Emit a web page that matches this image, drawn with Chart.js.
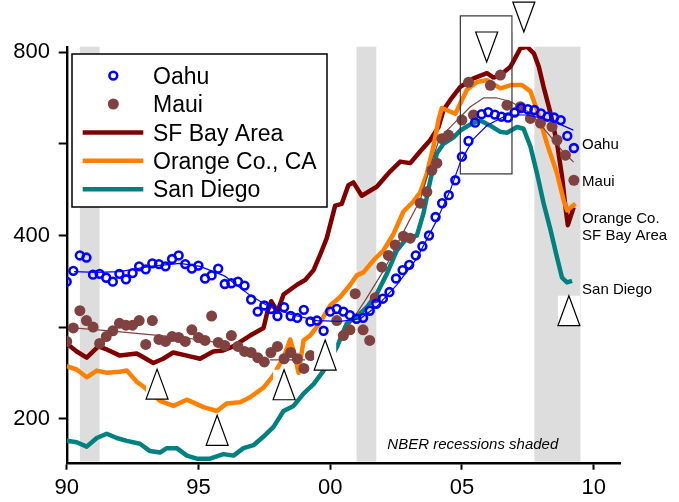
<!DOCTYPE html>
<html>
<head>
<meta charset="utf-8">
<script src="https://cdn.jsdelivr.net/npm/chart.js@4/dist/chart.umd.min.js"></script>
<style>
  html, body { margin: 0; padding: 0; background: #fff; }
  #wrap { width: 679px; height: 502px; }
</style>
</head>
<body>
<div id="wrap"><canvas id="c" width="679" height="502"></canvas></div>
<script>
// ---- axes ----
const xTicks = [1990, 1995, 2000, 2005, 2010];
const xTickLabels = ['90', '95', '00', '05', '10'];
const yTicks = [200, 283, 400, 566, 800];
const yTickLabels = ['200', '', '400', '', '800'];

// ---- NBER recessions ----
const recessionStart = [1990.5, 2001.0, 2007.75];
const recessionEnd   = [1991.25, 2001.75, 2009.5];

// ---- Oahu (quarterly, starting 1990 Q1) ----
const oahuStart = 1990;
const oahuValues = [336,350,371,368,345,346,341,336,346,339,
                    347,356,352,360,359,356,366,371,359,353,
                    357,340,344,353,333,334,336,331,314,300,
                    307,303,295,305,295,293,302,289,290,279,
                    300,303,300,296,292,293,301,309,315,323,
                    340,351,358,371,384,400,429,452,466,493,
                    539,572,613,633,638,632,627,625,637,648,
                    645,643,635,627,625,619,583,557];
const oahuYears = oahuValues.map((_, i) => oahuStart + i / 4);

// Oahu trend
const oahuTrendYears  = [1990.28,1991.15,1992.02,1993.16,1994.30,1995.06,1996.01,1996.96,1997.72,1998.48,1999.49,2000.38,2001.14,2001.77,2002.53,2003.29,2004.05,2004.56,2004.94,2005.43,2005.96,2006.72,2007.48,2008.36,2009.23];
const oahuTrendValues = [349,348,349,356,360,356,343,319,305,297,290,289,292,306,332,367,424,475,528,576,607,631,631,619,596];

// ---- Maui ----
const mauiYears = [1990.00,1990.25,1990.50,1990.75,1991.00,1991.25,1991.50,1991.75,1992.00,1992.25,
                   1992.50,1992.75,1993.00,1993.25,1993.50,1993.75,1994.00,1994.25,1994.50,1994.75,
                   1995.00,1995.25,1995.50,1995.75,1996.00,1996.25,1996.50,1996.75,1997.00,1997.25,
                   1997.50,1997.75,1998.00,1998.25,1998.50,1998.75,1999.00,1999.25,
                   2000.25,2000.50,2000.75,2000.95,2001.25,2001.50,2001.71,2001.96,2002.21,2002.47,
                   2002.78,2003.04,2003.42,2003.67,2003.86,2004.05,2004.24,2004.49,2005.00,2005.25,
                   2005.44,2006.08,2006.46,2006.71,2007.22,2007.60,2007.98,2008.42,2008.61,2008.93,
                   2009.25];
const mauiValues = [268,282,301,290,283,266,273,279,287,285,
                    285,290,265,290,270,268,273,272,268,280,
                    272,269,295,267,264,274,263,258,257,252,
                    248,257,263,251,257,251,242,254,
                    290,274,280,321,280,269,316,355,371,386,
                    399,396,452,472,512,526,577,585,619,714,
                    631,706,734,655,651,623,612,604,574,542,
                    493];

// Maui trend (three fitted pieces)
const mauiTrendYears  = [1990.24,1991.64,1993.16,1994.68,1996.20,1996.90,1997.72,1999.05,1999.80,
                         2000.57,2001.33,2002.09,2002.85,2003.42,2003.80,2004.15,2004.82,2005.32,2005.82,2006.33,2006.84,2007.60,2008.23,2008.86,2009.24];
const mauiTrendValues = [282,279,275,271,265,null,250,250,null,
                         279,313,354,411,458,520,578,619,651,673,673,664,636,591,548,528];

// ---- SF Bay Area ----
const sfYears = [1990.00,1990.38,1990.76,1991.20,1991.52,1992.02,1992.66,1993.29,1993.66,1994.04,
                 1994.56,1995.06,1995.56,1995.94,1996.32,1996.96,1997.47,1997.62,1997.76,1998.00,
                 1998.23,1998.74,1999.05,1999.37,1999.62,1999.87,2000.19,2000.44,2000.69,2000.88,
                 2001.20,2001.45,2001.77,2002.09,2002.28,2002.66,2003.04,2003.42,2003.80,2004.11,
                 2004.30,2004.56,2004.94,2005.44,2005.95,2006.20,2006.46,2006.84,2007.22,2007.47,
                 2007.73,2007.92,2008.10,2008.36,2008.61,2008.80,2008.93,2009.02,2009.24];
const sfValues = [266,258,252,263,260,254,256,247,251,257,
                  254,251,258,259,263,274,282,300,312,300,
                  320,332,338,351,372,396,448,451,484,489,
                  465,472,481,499,510,529,526,550,574,603,
                  643,668,702,725,739,727,734,757,812,817,
                  797,757,702,636,567,500,445,416,445];

// ---- Orange Co., CA ----
const orangeYears = [1990.00,1990.38,1990.76,1991.14,1991.52,1992.02,1992.28,1992.66,1992.91,1993.54,
                     1994.05,1994.56,1995.19,1995.70,1996.08,1996.58,1996.96,1997.47,1997.85,1998.23,
                     1998.48,1998.61,1998.80,1998.99,1999.24,1999.62,2000.00,2000.38,2000.76,2001.01,
                     2001.26,2001.64,2002.02,2002.40,2002.78,2003.16,2003.42,2003.67,2003.92,2004.11,
                     2004.24,2004.75,2005.19,2005.57,2005.95,2006.46,2006.90,2007.28,2007.60,2007.85,
                     2008.23,2008.61,2008.86,2008.99,2009.31];
const orangeValues = [244,241,234,240,238,239,240,230,226,214,
                      210,215,209,206,212,213,217,225,236,252,
                      270,259,238,269,274,288,307,317,332,344,
                      348,364,378,402,438,455,471,506,560,619,
                      648,634,694,715,720,698,707,707,690,643,
                      566,506,457,440,451];

// ---- San Diego ----
const sdYears = [1990.00,1990.38,1990.76,1991.14,1991.52,1991.90,1992.28,1992.78,1993.16,1993.54,
                 1993.80,1994.18,1994.56,1994.94,1995.44,1995.95,1996.33,1996.71,1997.09,1997.47,
                 1997.85,1998.23,1998.61,1998.99,1999.37,1999.75,2000.25,2000.63,2001.01,2001.39,
                 2001.77,2002.15,2002.53,2002.91,2003.29,2003.54,2003.80,2004.05,2004.30,2004.68,
                 2004.94,2005.32,2005.70,2006.08,2006.46,2006.71,2007.09,2007.34,2007.60,2007.85,
                 2008.10,2008.36,2008.61,2008.80,2008.99,2009.18];
const sdValues = [184,183,180,186,189,186,184,182,177,176,
                  179,179,174,172,172,175,174,179,181,187,
                  194,206,210,220,228,240,262,287,294,305,
                  321,346,378,396,400,435,493,546,566,580,
                  595,609,618,606,592,590,603,599,560,506,
                  452,409,368,341,335,337];

// ---- turning-point markers ----
const markerYears  = [1993.43, 1995.71, 1998.25, 1999.81, 2009.06, 2005.94, 2007.35];
const markerValues = [228, 191.5, 227.5, 254.5, 301, 816, 914];
const markerDir    = ['up', 'up', 'up', 'up', 'up', 'down', 'down'];

// bracket around the 2005-2006 peak
const bracketYears  = [2004.94, 2006.90];
const bracketValues = [505, 918];

// ---- end-of-line labels ----
const endLabels = ['Oahu', 'Maui', 'Orange Co.', 'SF Bay Area', 'San Diego'];
const endLabelValues = [566, 493, 428, 401, 327];
const endLabelYear = 2009.56;

const noteText = 'NBER recessions shaded';
const noteYear = 2002.17;
const noteValue = 178.3;

// ---- styles ----
const FONT = '"Liberation Sans", Arial, Helvetica, sans-serif';
const BLUE = '#0000ff';
const MAUI = '#7f4240';
const SF = '#800000';
const ORANGE = '#ff8000';
const TEAL = '#008080';
const SHADE = '#dddddd';

Chart.defaults.font.family = FONT;
Chart.defaults.color = '#000';

const pts = (xs, ys) => xs.map((x, i) => ({ x: x, y: ys[i] }));

function drawTriangle(ctx, cx, cy, dir) {
  const w = 22, h = 30;
  const l = cx - w / 2, t = cy - h / 2;
  ctx.fillStyle = '#fff';
  ctx.fillRect(l, t, w, h);
  ctx.beginPath();
  if (dir === 'up') {
    ctx.moveTo(cx, t); ctx.lineTo(l + w, t + h); ctx.lineTo(l, t + h);
  } else {
    ctx.moveTo(l, t); ctx.lineTo(l + w, t); ctx.lineTo(cx, t + h);
  }
  ctx.closePath();
  ctx.lineWidth = 1.2;
  ctx.strokeStyle = '#000';
  ctx.stroke();
}

const decorations = {
  id: 'decorations',
  beforeDraw(chart) {
    const { ctx, chartArea: ca, scales: { x } } = chart;
    ctx.save();
    ctx.fillStyle = SHADE;
    for (let i = 0; i < recessionStart.length; i++) {
      const a = x.getPixelForValue(recessionStart[i]);
      const b = x.getPixelForValue(recessionEnd[i]);
      ctx.fillRect(a, ca.top, b - a, ca.bottom - ca.top - 1);
    }
    ctx.restore();
  },
  afterDatasetsDraw(chart) {
    const { ctx, chartArea: ca, scales: { x, y } } = chart;
    ctx.save();

    // bracket
    const bl = x.getPixelForValue(bracketYears[0]);
    const br = x.getPixelForValue(bracketYears[1]);
    const bb = y.getPixelForValue(bracketValues[0]);
    const bt = y.getPixelForValue(bracketValues[1]);
    ctx.strokeStyle = '#333';
    ctx.lineWidth = 1.2;
    ctx.strokeRect(bl, bt, br - bl, bb - bt);

    // markers
    for (let i = 0; i < markerYears.length; i++) {
      drawTriangle(ctx, x.getPixelForValue(markerYears[i]), y.getPixelForValue(markerValues[i]), markerDir[i]);
    }

    // end labels
    ctx.fillStyle = '#000';
    ctx.font = '15px ' + FONT;
    ctx.textAlign = 'left';
    ctx.textBaseline = 'alphabetic';
    const lx = x.getPixelForValue(endLabelYear);
    endLabels.forEach((t, i) => {
      ctx.fillText(t, lx, y.getPixelForValue(endLabelValues[i]) + 5.4);
    });

    // note
    ctx.font = 'italic 15px ' + FONT;
    ctx.fillText(noteText, x.getPixelForValue(noteYear), y.getPixelForValue(noteValue));

    // legend
    const L = ca.left + 5.3, T = ca.top + 7.3, W = 255, H = 153;
    ctx.fillStyle = '#fff';
    ctx.fillRect(L, T, W, H);
    ctx.strokeStyle = '#000';
    ctx.lineWidth = 1.5;
    ctx.strokeRect(L, T, W, H);
    const items = chart.data.datasets.filter(d => d.legendRow !== undefined)
      .sort((a, b) => a.legendRow - b.legendRow);
    ctx.font = '23px ' + FONT;
    items.forEach((d, i) => {
      const cy = T + 21.6 + i * 28.4;
      const sx = L + 41.3;
      if (d.showLine === false) {
        ctx.beginPath();
        ctx.arc(sx, cy, d.pointRadius, 0, Math.PI * 2);
        if (d.pointBorderWidth > 0) {
          ctx.lineWidth = d.pointBorderWidth;
          ctx.strokeStyle = d.pointBorderColor;
          ctx.stroke();
        } else {
          ctx.fillStyle = d.pointBackgroundColor;
          ctx.fill();
        }
      } else {
        ctx.beginPath();
        ctx.moveTo(L + 10.7, cy);
        ctx.lineTo(L + 71.3, cy);
        ctx.lineWidth = d.borderWidth;
        ctx.strokeStyle = d.borderColor;
        ctx.lineCap = 'butt';
        ctx.stroke();
      }
      ctx.fillStyle = '#000';
      ctx.fillText(d.label, L + 81, cy + 8.2);
    });
    ctx.restore();
  }
};

new Chart(document.getElementById('c'), {
  type: 'line',
  data: {
    datasets: [
      { label: 'Oahu', legendRow: 0, data: pts(oahuYears, oahuValues), showLine: false,
        pointStyle: 'circle', pointRadius: 3.9, pointBorderWidth: 2.6,
        pointBorderColor: BLUE, pointBackgroundColor: 'rgba(0,0,0,0)' },
      { label: 'Oahu trend', data: pts(oahuTrendYears, oahuTrendValues),
        borderColor: BLUE, borderWidth: 1.2, pointRadius: 0 },
      { label: 'Maui', legendRow: 1, data: pts(mauiYears, mauiValues), showLine: false,
        pointStyle: 'circle', pointRadius: 5.5, pointBorderWidth: 0,
        pointBorderColor: MAUI, pointBackgroundColor: MAUI },
      { label: 'Maui trend', data: pts(mauiTrendYears, mauiTrendValues),
        borderColor: MAUI, borderWidth: 1.2, pointRadius: 0 },
      { label: 'San Diego', legendRow: 4, data: pts(sdYears, sdValues),
        borderColor: TEAL, borderWidth: 4.5, pointRadius: 0 },
      { label: 'Orange Co., CA', legendRow: 3, data: pts(orangeYears, orangeValues),
        borderColor: ORANGE, borderWidth: 4.5, pointRadius: 0 },
      { label: 'SF Bay Area', legendRow: 2, data: pts(sfYears, sfValues),
        borderColor: SF, borderWidth: 4.5, pointRadius: 0 }
    ]
  },
  options: {
    responsive: false,
    animation: false,
    devicePixelRatio: 1,
    events: [],
    layout: { padding: { left: 0, top: 46.7, right: 59, bottom: 0 } },
    plugins: { legend: { display: false }, tooltip: { enabled: false } },
    elements: {
      line: { tension: 0, borderJoinStyle: 'round', borderCapStyle: 'butt', fill: false },
      point: { hoverRadius: 0 }
    },
    scales: {
      x: {
        type: 'linear', min: 1990, max: 2011,
        afterBuildTicks: s => { s.ticks = xTicks.map(v => ({ value: v })); },
        afterFit: s => { s.height = 39.3; },
        ticks: {
          callback: (v, i) => xTickLabels[i],
          font: { size: 22 }, padding: 5, maxRotation: 0, autoSkip: false, color: '#000'
        },
        grid: { drawOnChartArea: false, drawTicks: true, tickLength: 7, tickWidth: 2, tickColor: '#000' },
        border: { display: true, color: '#000', width: 2.4 }
      },
      y: {
        type: 'logarithmic', min: 169.4, max: 817,
        afterBuildTicks: s => { s.ticks = yTicks.map(v => ({ value: v })); },
        afterFit: s => { s.width = 66.7; },
        ticks: {
          callback: (v, i) => yTickLabels[i],
          font: { size: 22 }, padding: 8.7, autoSkip: false, color: '#000'
        },
        grid: { drawOnChartArea: false, drawTicks: true, tickLength: 8, tickWidth: 2, tickColor: '#000' },
        border: { display: true, color: '#000', width: 2.4 }
      }
    }
  },
  plugins: [decorations]
});
</script>
</body>
</html>
